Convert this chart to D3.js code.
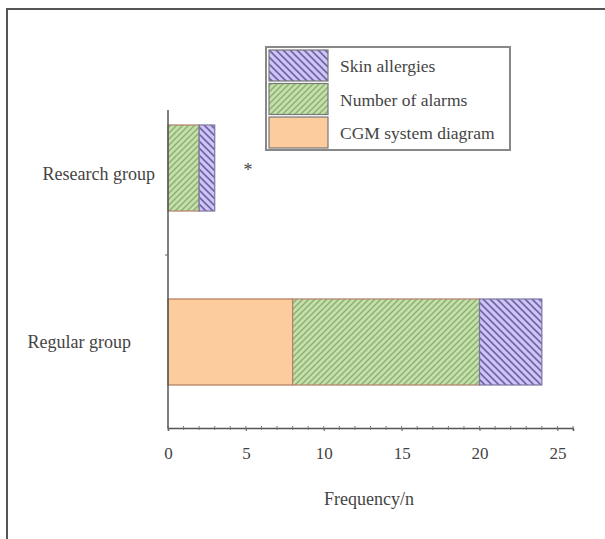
<html>
<head>
<script src="https://d3js.org/d3.v7.min.js"></script>
<style>
  body { margin: 0; background: #fff; }
  text { font-family: "Liberation Serif", "DejaVu Serif", serif; fill: #444; }
</style>
</head>
<body>
<svg id="chart" width="605" height="539"></svg>
<script>
const groups = ['Research group', 'Regular group'];
const seriesNames = ['CGM system diagram', 'Number of alarms', 'Skin allergies'];
const cgm = [0, 8];
const alarms = [2, 12];
const allergies = [1, 4];
const xTicks = [0, 5, 10, 15, 20, 25];

const svg = d3.select('svg#chart');
const margins = {top: 110, left: 168, right: 32, bottom: 111};
const width = 605, height = 539;
const chartWidth = width - margins.left - margins.right;
const chartHeight = height - margins.top - margins.bottom;

// frame
svg.append('path')
  .attr('d', `M7,539 L7,9 L605,9`)
  .attr('fill', 'none').attr('stroke', '#555').attr('stroke-width', 2);

const defs = svg.append('defs');
function hatch(id, bg, line, size, dir, w) {
  const p = defs.append('pattern').attr('id', id)
    .attr('patternUnits', 'userSpaceOnUse').attr('width', size).attr('height', size);
  p.append('rect').attr('width', size).attr('height', size).attr('fill', bg);
  const d = dir > 0
    ? `M0,${size} L${size},0 M${-size/2},${size/2} L${size/2},${-size/2} M${size/2},${size*1.5} L${size*1.5},${size/2}`
    : `M0,0 L${size},${size} M${-size/2},${size/2} L${size/2},${size*1.5} M${size/2},${-size/2} L${size*1.5},${size/2}`;
  p.append('path').attr('d', d).attr('stroke', line).attr('stroke-width', w);
}
hatch('hGreen', '#c4e0a8', '#8aaf74', 6, 1, 1.4);
hatch('hPurple', '#cfc4f4', '#6e64a8', 7, -1, 1.6);

const fills = ['#fdcc9c', 'url(#hGreen)', 'url(#hPurple)'];
const strokes = ['#b07a5a', '#b0806a', '#7a76a0'];

const chart = svg.append('g').attr('transform', `translate(${margins.left},${margins.top})`);

const x = d3.scaleLinear().domain([0, 26]).range([0, chartWidth]);
const y = d3.scaleBand().domain(groups).range([15, 275]).paddingInner(0.5057).paddingOuter(0);

const table = groups.map((g, i) => ({group: g, 'CGM system diagram': cgm[i], 'Number of alarms': alarms[i], 'Skin allergies': allergies[i]}));
const stacked = d3.stack().keys(seriesNames)(table);

stacked.forEach((s, si) => {
  chart.selectAll(null).data(s.filter(d => d[1] > d[0])).enter().append('rect')
    .attr('x', d => x(d[0]))
    .attr('y', d => y(d.data.group))
    .attr('width', d => x(d[1]) - x(d[0]))
    .attr('height', y.bandwidth())
    .attr('fill', fills[si])
    .attr('stroke', strokes[si])
    .attr('stroke-width', 1.2);
});

// x axis with minor ticks
const xAxis = d3.axisBottom(x).tickValues(xTicks).tickSize(3).tickPadding(16);
const xg = chart.append('g').attr('transform', `translate(0,${chartHeight})`).call(xAxis);
xg.select('.domain').attr('stroke', '#555').attr('stroke-width', 1.5);
xg.selectAll('.tick line').attr('stroke', '#666');
xg.selectAll('text').style('font-size', '17px').attr('fill', '#444')
  .style('font-family', '"Liberation Serif", serif');
const minor = d3.range(0, 27);
chart.append('g').selectAll('line').data(minor).enter().append('line')
  .attr('x1', d => x(d)).attr('x2', d => x(d))
  .attr('y1', chartHeight - 2).attr('y2', chartHeight + 2)
  .attr('stroke', '#777').attr('stroke-width', 1);

// y axis
chart.append('line').attr('x1', 0).attr('x2', 0).attr('y1', 0).attr('y2', chartHeight)
  .attr('stroke', '#555').attr('stroke-width', 1.5);
const mid = (y(groups[0]) + y.bandwidth() + y(groups[1])) / 2;
chart.append('line').attr('x1', -3).attr('x2', 0).attr('y1', mid).attr('y2', mid)
  .attr('stroke', '#666');

// category labels
const labelX = [-13, -37];
const labelDy = [12, 6];
groups.forEach((g, i) => {
  chart.append('text')
    .attr('x', labelX[i])
    .attr('y', y(g) + y.bandwidth() / 2 + labelDy[i])
    .attr('text-anchor', 'end')
    .style('font-size', '18px')
    .text(g);
});

// significance mark
chart.append('text').attr('x', x(5) + 2).attr('y', 66).attr('text-anchor', 'middle')
  .style('font-size', '18px').text('*');

// x label
svg.append('text').attr('x', 369).attr('y', 505).attr('text-anchor', 'middle')
  .style('font-size', '18px').text('Frequency/n');

// legend
const lg = svg.append('g').attr('transform', 'translate(266,47)');
lg.append('rect').attr('width', 244).attr('height', 103)
  .attr('fill', '#fff').attr('stroke', '#888').attr('stroke-width', 2);
const legendOrder = [2, 1, 0];
legendOrder.forEach((si, r) => {
  lg.append('rect').attr('x', 3).attr('y', 3 + r * 33.5).attr('width', 59).attr('height', 31)
    .attr('fill', fills[si]).attr('stroke', '#777').attr('stroke-width', 1.2);
  lg.append('text').attr('x', 74).attr('y', 3 + r * 33.5 + 22)
    .style('font-size', '17.5px').text(seriesNames[si]);
});
</script>
</body>
</html>
